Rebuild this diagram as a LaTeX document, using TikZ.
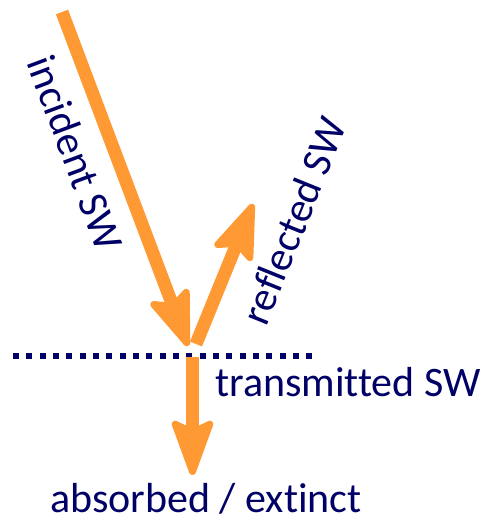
\documentclass[tikz,border=0pt]{standalone}
\usepackage{fontspec}
\setmainfont[Ligatures={NoCommon}]{Carlito}
\usetikzlibrary{arrows.meta}

\definecolor{beam}{RGB}{255,153,51}
\definecolor{ink}{RGB}{0,0,102}

\begin{document}
\begin{tikzpicture}[x=1pt,y=1pt,
  ray/.style={draw=beam, line width=13pt,
    -{Stealth[length=64pt, width=46pt, inset=11pt, round, line width'=7pt]}},
  label/.style={text=ink, font=\fontsize{42}{48}\selectfont, inner sep=0pt},
  surface/.style={draw=ink, line width=6pt, dash pattern=on 6pt off 7.33pt}]
  \useasboundingbox (0,0) rectangle (485,523);

  % beam end points
  \coordinate (inStart) at (62,511);
  \coordinate (inEnd)   at (188,177);
  \coordinate (reStart) at (196,179);
  \coordinate (reEnd)   at (253,319);
  \coordinate (trStart) at (192.5,166);
  \coordinate (trEnd)   at (192.5,48);
  \coordinate (sfL) at (13,167.3);
  \coordinate (sfR) at (312.4,167.3);

  % the surface
  \draw[surface] (sfL) -- (sfR);

  % incident, reflected and transmitted beams
  \draw[ray] (inStart) -- (inEnd);
  \draw[ray] (reStart) -- (reEnd);
  \draw[ray] (trStart) -- (trEnd);

  % labels
  \node[label, anchor=base, rotate=-69.5] (lin) at (62,365) {incident SW};
  \node[label, anchor=base, rotate=68] (lre) at (307,297) {reflected SW};
  \node[label, anchor=base west] (ltr) at (215,126) {transmitted SW};
  \node[label, anchor=base west] (lab) at (50,10) {absorbed / extinct};
\end{tikzpicture}
\end{document}
